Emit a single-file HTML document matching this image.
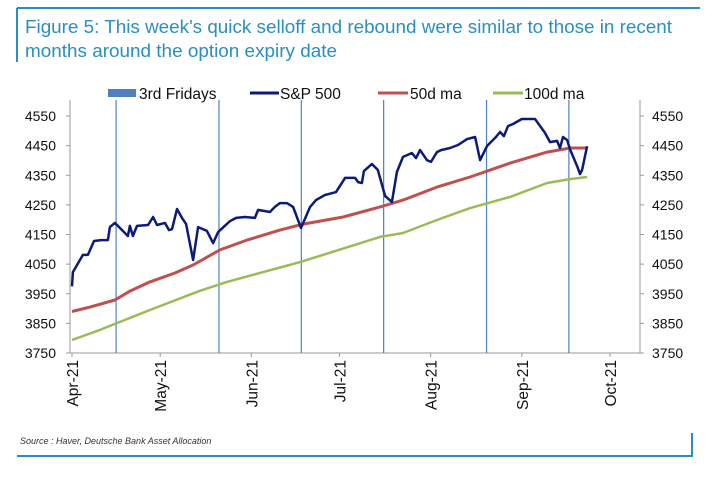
<!DOCTYPE html>
<html><head><meta charset="utf-8"><style>
body{margin:0;background:#fff;width:716px;height:477px;overflow:hidden;font-family:"Liberation Sans",sans-serif}
</style></head><body>
<svg width="716" height="477" xmlns="http://www.w3.org/2000/svg" font-family="Liberation Sans, sans-serif">
<line x1="17" y1="8" x2="700" y2="8" stroke="#2a8fc0" stroke-width="2"/>
<line x1="17" y1="8" x2="17" y2="62" stroke="#2a8fc0" stroke-width="2"/>
<text x="25" y="33" font-size="18.5" fill="#2a8fc0" textLength="647" lengthAdjust="spacingAndGlyphs">Figure 5: This week's quick selloff and rebound were similar to those in recent</text>
<text x="25" y="57" font-size="18.5" fill="#2a8fc0" textLength="312" lengthAdjust="spacingAndGlyphs">months around the option expiry date</text>
<g font-size="15.5" fill="#111">
<rect x="108" y="89" width="28" height="8" fill="#4f81bd"/>
<text x="139" y="99">3rd Fridays</text>
<line x1="250" y1="93" x2="279" y2="93" stroke="#0c1a7a" stroke-width="3"/>
<text x="280" y="99">S&amp;P 500</text>
<line x1="378" y1="93" x2="408" y2="93" stroke="#c0504d" stroke-width="3"/>
<text x="410" y="99">50d ma</text>
<line x1="493" y1="93" x2="523" y2="93" stroke="#9bbb59" stroke-width="3"/>
<text x="524" y="99">100d ma</text>
</g>
<g id="chart"></g>
<text x="20" y="444" font-size="9" font-style="italic" fill="#333">Source : Haver, Deutsche Bank Asset Allocation</text>
<line x1="17" y1="456" x2="693" y2="456" stroke="#2a8fc0" stroke-width="2"/>
<line x1="692" y1="433" x2="692" y2="457" stroke="#2a8fc0" stroke-width="2"/>
</svg>
<script>
const yTicks=[3750,3850,3950,4050,4150,4250,4350,4450,4550];
const monthLabels=["Apr-21","May-21","Jun-21","Jul-21","Aug-21","Sep-21","Oct-21"];
const monthDays=[0,30,61,91,122,153,183];
const fridayDays=[15,50,78,106,141,169];
const spDays=[0,0.3,3.7,5.4,7.5,9.9,12.2,12.9,14.6,19,19.7,20.7,22.1,25.9,27.6,28.9,31.6,33,34,35.7,37.4,38.8,41.2,42.9,45.9,48,49.7,53.7,55.8,58.8,62.2,63.3,67.3,69,70.7,73.1,75.2,77.9,81,83,86,89.8,92.9,96.3,97.3,98.6,99.3,102,104,106.5,108.8,110.5,112.6,115.6,117,118.4,120.7,122.1,124.1,125.5,128.6,131.3,134.4,137.1,138.8,141.2,143.9,145.6,146.9,148.3,150,153,157.5,158.5,160.9,162.6,165,166,167,168.4,169.4,171.8,172.8,173.5,175.2];
const spValues=[3975,4023,4081,4081,4128,4131,4131,4175,4189,4145,4179,4145,4179,4182,4209,4182,4189,4165,4168,4236,4206,4185,4064,4175,4162,4121,4158,4195,4206,4209,4206,4233,4226,4243,4256,4256,4243,4172,4243,4266,4283,4293,4341,4341,4327,4324,4364,4388,4368,4280,4260,4361,4412,4425,4408,4435,4401,4395,4428,4435,4442,4452,4472,4479,4401,4449,4476,4496,4482,4516,4523,4540,4540,4526,4493,4462,4466,4442,4479,4469,4438,4381,4354,4368,4448];
const ma50Days=[0,6.1,14.6,19.7,26.5,35,41.2,50.3,59.5,70.7,78.6,92.2,104.8,112.6,124.1,135.4,149,161.6,169.4,175.2];
const ma50Values=[3890,3905,3929,3959,3990,4020,4047,4098,4131,4165,4185,4209,4243,4266,4310,4344,4391,4428,4442,4442];
const ma100Days=[0,9.5,26.5,43.5,52.7,77.6,104.8,112.6,124.1,135.4,149,161.6,169.4,175.2];
const ma100Values=[3794,3828,3895,3960,3990,4057,4142,4155,4199,4239,4277,4324,4337,4344];
const NS="http://www.w3.org/2000/svg";
const g=document.getElementById('chart');
const L=70,R=640,T=116,B=353;
const xs=d=>72+2.94*d;
const ys=v=>B-(v-3750)/800*(B-T);
function mk(tag,attrs){const e=document.createElementNS(NS,tag);for(const k in attrs)e.setAttribute(k,attrs[k]);g.appendChild(e);return e;}
let e;
e=mk('line',{x1:L,y1:100,x2:L,y2:B,stroke:'#999','stroke-width':1});


e=mk('line',{x1:R,y1:100,x2:R,y2:B,stroke:'#999','stroke-width':1});


e=mk('line',{x1:L,y1:B,x2:R,y2:B,stroke:'#999','stroke-width':1});


yTicks.forEach(v=>{const y=ys(v);
 e=mk('line',{x1:L-4,y1:y,x2:L,y2:y,stroke:'#999'});
 
 
 e=mk('line',{x1:R,y1:y,x2:R+4,y2:y,stroke:'#999'});
 
 
 e=mk('text',{x:56,y:y+5,'font-size':14,'text-anchor':'end',fill:'#111'});e.textContent=v;
 
 
 e=mk('text',{x:652,y:y+5,'font-size':14,fill:'#111'});e.textContent=v;
 
 
});
monthDays.forEach((d,i)=>{const x=xs(d);
 e=mk('line',{x1:x,y1:B,x2:x,y2:B+4,stroke:'#999'});
 
 
 e=mk('text',{x:x+6,y:B+7,'font-size':15.5,'text-anchor':'end',fill:'#111',transform:`rotate(-90 ${x+6} ${B+7})`});e.textContent=monthLabels[i];
 
 
});
fridayDays.forEach(d=>{const x=xs(d);
 e=mk('line',{x1:x,y1:100,x2:x,y2:B,stroke:'#4f81bd','stroke-width':1.2});
 
 
});
function path(days,vals,color,w,name){
 const d=days.map((t,i)=>(i?'L':'M')+xs(t).toFixed(1)+' '+ys(vals[i]).toFixed(1)).join(' ');
 const p=mk('path',{d:d,fill:'none',stroke:color,'stroke-width':w,'stroke-linejoin':'round'});
 
 
}
path(ma100Days,ma100Values,'#9bbb59',2.5,'ma100-line');
path(ma50Days,ma50Values,'#c0504d',3,'ma50-line');
path(spDays,spValues,'#0c1a7a',2.5,'sp500-line');
</script>
</body></html>
